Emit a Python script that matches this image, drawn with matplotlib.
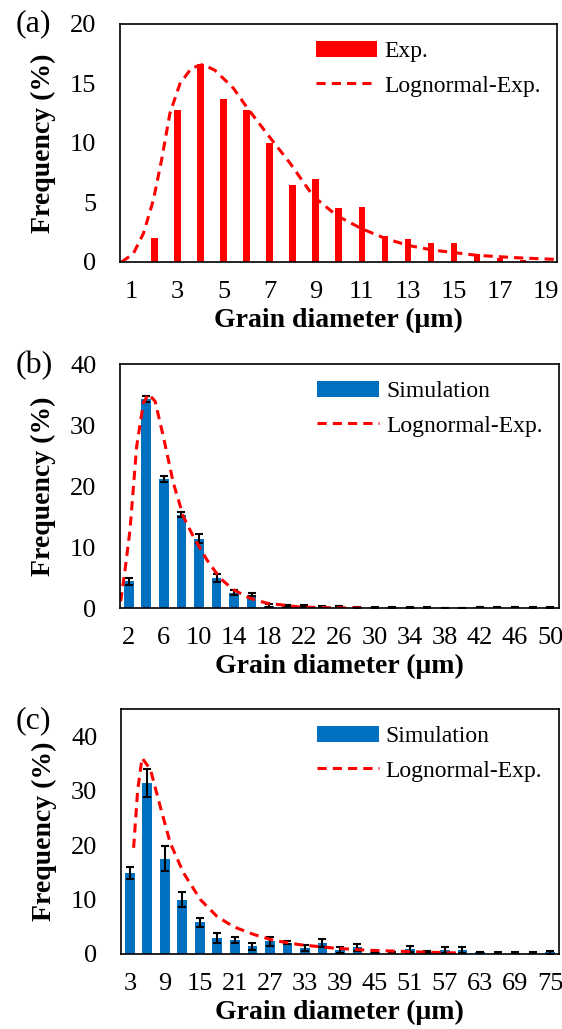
import matplotlib
matplotlib.use("Agg")
import matplotlib.pyplot as plt
import numpy as np

plt.rcParams['font.family'] = ['Liberation Serif', 'DejaVu Serif']

# ---- panel (a): experiment ----
cat_a = list(range(1, 20))
exp_a = [0, 2.0, 12.8, 16.6, 13.7, 12.8, 10.0, 6.5, 7.0, 4.5, 4.6, 2.2, 1.9, 1.6, 1.6, 0.7, 0.3, 0.2, 0.1]
# lognormal curve (x in category index units, 0 = first category)
curve_a_x = [-0.43, 0.08, 0.52, 0.95, 1.31, 1.67, 2.11, 2.61, 3.12, 3.63, 4.43, 5.01, 5.88,
             6.89, 7.91, 8.92, 10.0, 11.0, 12.0, 13.1, 15.0, 16.7, 18.4]
curve_a_y = [0.0, 0.7, 2.4, 5.2, 8.6, 12.5, 15.0, 16.3, 16.6, 16.1, 14.6, 13.0, 10.8,
             8.3, 5.5, 3.9, 2.8, 2.0, 1.4, 1.0, 0.56, 0.36, 0.22]

# ---- panel (b): simulation ----
cat_b = list(range(2, 51, 2))
sim_b = [4.4, 34.3, 21.2, 15.3, 11.4, 4.9, 2.5, 2.2, 0.4, 0.3, 0.3, 0.2, 0.2, 0.15, 0.1,
         0.1, 0.1, 0.05, 0.0, 0.0, 0.15, 0.15, 0.15, 0.1, 0.1]
err_b = [0.6, 0.5, 0.5, 0.4, 0.8, 0.6, 0.4, 0.3, 0.2, 0.2, 0.2, 0.1, 0.1, 0.1, 0.1,
         0.1, 0.1, 0.05, 0.0, 0.0, 0.05, 0.05, 0.05, 0.05, 0.05]
curve_b_x = [-0.46, -0.21, 0.07, 0.45, 0.83, 1.12, 1.5, 1.97, 2.54, 3.11, 3.68, 4.45,
             5.2, 5.96, 6.91, 7.86, 9.76, 11.5, 13.5]
curve_b_y = [1.1, 6.3, 12.8, 26.5, 33.6, 35.1, 33.9, 28.1, 20.5, 15.0, 11.7, 7.9,
             4.9, 3.0, 1.6, 0.8, 0.16, 0.05, 0.0]

# ---- panel (c): simulation ----
cat_c = list(range(3, 76, 3))
sim_c = [14.9, 31.4, 17.5, 10.0, 5.8, 2.9, 2.6, 1.4, 2.3, 2.1, 1.1, 2.0, 0.7, 1.2, 0.3,
         0.2, 0.9, 0.3, 0.7, 0.7, 0.3, 0.2, 0.2, 0.2, 0.3]
err_c = [1.1, 2.6, 2.3, 1.4, 0.8, 0.9, 0.6, 0.6, 0.9, 0.3, 0.5, 0.7, 0.5, 0.6, 0.1,
         0.1, 0.6, 0.2, 0.6, 0.6, 0.1, 0.1, 0.1, 0.1, 0.3]
curve_c_x = [0.22, 0.45, 0.7, 1.18, 1.74, 2.31, 3.07, 4.03, 4.98, 5.93, 7.07, 8.21,
             9.73, 11.6, 13.5, 15.4, 17.3, 18.7]
curve_c_y = [19.5, 30.0, 36.0, 33.9, 27.1, 20.4, 14.9, 10.0, 6.9, 5.0, 3.6, 2.5,
             1.7, 1.1, 0.7, 0.5, 0.3, 0.2]

RED = '#ff0000'
BLUE = '#0070c0'

fig = plt.figure(figsize=(5.62, 10.29), dpi=100)


def style(ax, cats, step, ylim, yticks):
    n = len(cats)
    ax.set_xlim(-0.5, n - 0.5)
    ax.set_ylim(*ylim)
    ax.set_yticks(yticks)
    ax.set_xticks(range(0, n, step))
    ax.set_xticklabels([str(c) for c in cats[::step]])
    ax.tick_params(axis='both', length=0, labelsize=19)
    ax.tick_params(axis='y', pad=17)
    ax.tick_params(axis='x', pad=14)
    for s in ax.spines.values():
        s.set_linewidth(1.2)
    ax.set_xlabel('Grain diameter (μm)', fontsize=20, fontweight='bold', labelpad=3)
    ax.set_ylabel('Frequency (%)', fontsize=20, fontweight='bold', labelpad=10)


def add_legend(ax, bars, line):
    ax.legend([bars, line], [bars.get_label(), line.get_label()],
              loc='upper right', bbox_to_anchor=(1.0, 1.0), frameon=False, fontsize=17,
              handlelength=2.6, handletextpad=0.3, labelspacing=0.55, borderaxespad=0.3)


ERR = dict(ecolor='black', elinewidth=1.5, capsize=3, capthick=1.5)

# (a)
ax1 = fig.add_axes([0.2135, 0.7454, 0.778, 0.2313])
b1 = ax1.bar(range(len(cat_a)), exp_a, width=0.27, color=RED, label='Exp.')
l1, = ax1.plot(curve_a_x, curve_a_y, '--', color=RED, lw=2.2, dashes=(3, 2), label='Lognormal-Exp.')
style(ax1, cat_a, 2, (0, 20), [0, 5, 10, 15, 20])
add_legend(ax1, b1, l1)
fig.text(0.027, 0.977, '(a)', fontsize=23, va='center', ha='left')

# (b)
ax2 = fig.add_axes([0.2135, 0.4091, 0.781, 0.2371])
b2 = ax2.bar(range(len(cat_b)), sim_b, width=0.55, color=BLUE, label='Simulation',
             yerr=err_b, error_kw=ERR)
l2, = ax2.plot(curve_b_x, curve_b_y, '--', color=RED, lw=2.2, dashes=(3, 2), label='Lognormal-Exp.')
style(ax2, cat_b, 2, (0, 40), [0, 10, 20, 30, 40])
add_legend(ax2, b2, l2)
fig.text(0.027, 0.645, '(b)', fontsize=23, va='center', ha='left')

# (c)
ax3 = fig.add_axes([0.2153, 0.0729, 0.779, 0.2381])
b3 = ax3.bar(range(len(cat_c)), sim_c, width=0.55, color=BLUE, label='Simulation',
             yerr=err_c, error_kw=ERR)
l3, = ax3.plot(curve_c_x, curve_c_y, '--', color=RED, lw=2.2, dashes=(3, 2), label='Lognormal-Exp.')
style(ax3, cat_c, 2, (0, 45), [0, 10, 20, 30, 40])
add_legend(ax3, b3, l3)
fig.text(0.027, 0.300, '(c)', fontsize=23, va='center', ha='left')

fig.savefig('out.png', dpi=100)
